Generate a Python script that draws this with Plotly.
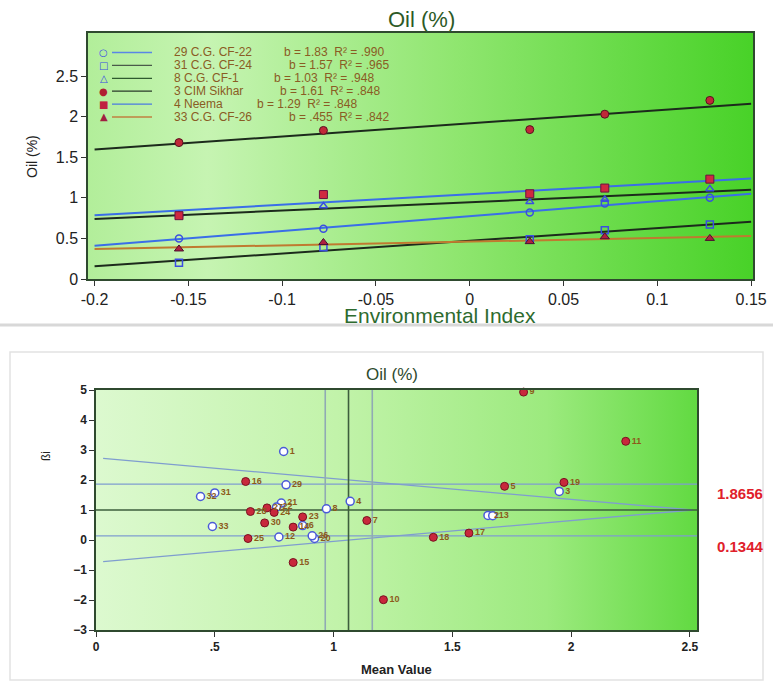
import plotly.graph_objects as go
import numpy as np

# design coordinates are in window pixels of the 773x684 target; the figure fills the window
W, H = 773, 684

# ---------------- Top chart data ----------------
env_index = [-0.155, -0.078, 0.032, 0.072, 0.128]
genotype_names = ["29 C.G. CF-22", "31 C.G. CF-24", "8 C.G. CF-1",
                  "3 CIM Sikhar", "4 Neema", "33 C.G. CF-26"]
b_values = [1.83, 1.57, 1.03, 1.61, 1.29, 0.455]
b_labels = ["1.83", "1.57", "1.03", "1.61", "1.29", ".455"]
r2_labels = [".990", ".965", ".948", ".848", ".848", ".842"]
oil_cf22 = [0.50, 0.62, 0.82, 0.93, 1.00]
oil_cf24 = [0.20, 0.39, 0.49, 0.60, 0.67]
oil_cf1 = [0.79, 0.90, 0.95, 0.98, 1.11]
oil_cim = [1.68, 1.83, 1.84, 2.03, 2.20]
oil_neema = [0.78, 1.04, 1.05, 1.12, 1.23]
oil_cf26 = [0.37, 0.45, 0.46, 0.52, 0.50]
top_x_ticks = [-0.2, -0.15, -0.1, -0.05, 0, 0.05, 0.1, 0.15]
top_x_ticktext = ["-0.2", "-0.15", "-0.1", "-0.05", "0", "0.05", "0.1", "0.15"]
top_y_ticks = [0, 0.5, 1, 1.5, 2, 2.5]
top_y_ticktext = ["0", "0.5", "1", "1.5", "2", "2.5"]
line_x_extent = [-0.2, 0.15]

# ---------------- Bottom chart data ----------------
geno_labels = ["1", "2", "3", "4", "5", "6", "7", "8", "9", "10", "11",
               "12", "13", "14", "15", "16", "17", "18", "19", "20", "21",
               "22", "23", "24", "25", "26", "27", "28", "29", "30", "31",
               "32", "33"]
mean_values = [0.79, 1.65, 1.95, 1.07, 1.72, 0.87, 1.14, 0.97, 1.80, 1.21, 2.23,
               0.77, 1.67, 0.83, 0.83, 0.63, 1.57, 1.42, 1.97, 0.92, 0.78,
               0.76, 0.87, 0.75, 0.64, 0.91, 0.72, 0.65, 0.80, 0.71, 0.50,
               0.44, 0.49]
beta_values = [2.95, 0.82, 1.62, 1.29, 1.79, 0.48, 0.65, 1.04, 4.93, -1.99, 3.29,
               0.10, 0.81, 0.43, -0.75, 1.95, 0.23, 0.09, 1.92, 0.05, 1.23,
               1.10, 0.77, 0.92, 0.05, 0.14, 1.07, 0.95, 1.84, 0.57, 1.57,
               1.45, 0.45]
marker_kind = ["open", "open", "open", "open", "filled", "open", "filled", "open", "filled", "filled", "filled",
               "open", "open", "filled", "filled", "filled", "filled", "filled", "filled", "open", "open",
               "open", "filled", "filled", "filled", "open", "filled", "filled", "open", "filled", "open",
               "open", "open"]
grand_mean = 1.063
mean_limits = [0.965, 1.163]
beta_ref = 1.0
beta_limits = [1.8656, 0.1344]
funnel_x = [0.03, 2.51]
funnel_upper = [2.72, 1.0]
funnel_lower = [-0.72, 1.0]
bot_x_ticks = [0, 0.5, 1, 1.5, 2, 2.5]
bot_x_ticktext = ["0", ".5", "1", "1.5", "2", "2.5"]
bot_y_ticks = [-3, -2, -1, 0, 1, 2, 3, 4, 5]


# ---------------- Layout helpers (window pixels -> paper fractions) ----------------
def fx(px):
    return px / W


def fy(py):
    return 1 - py / H


TOP_XR = [-0.2035, 0.151]
TOP_YR = [0, 3.03]
BOT_XR = [0.0, 2.53]
BOT_YR = [-3, 5]

fig = go.Figure()

# gradient backgrounds
fig.add_trace(go.Scatter(
    x=[TOP_XR[0], TOP_XR[1], TOP_XR[1], TOP_XR[0], TOP_XR[0]],
    y=[TOP_YR[0], TOP_YR[0], TOP_YR[1], TOP_YR[1], TOP_YR[0]],
    mode="none", fill="toself", hoverinfo="skip", showlegend=False,
    fillgradient=dict(type="horizontal",
                      colorscale=[[0, "#b2ee9a"], [0.18, "#c6f4b2"], [0.55, "#90e670"], [1, "#48d228"]]),
    xaxis="x", yaxis="y"))
fig.add_trace(go.Scatter(
    x=[BOT_XR[0], BOT_XR[1], BOT_XR[1], BOT_XR[0], BOT_XR[0]],
    y=[BOT_YR[0], BOT_YR[0], BOT_YR[1], BOT_YR[1], BOT_YR[0]],
    mode="none", fill="toself", hoverinfo="skip", showlegend=False,
    fillgradient=dict(type="horizontal",
                      colorscale=[[0, "#dcf9cf"], [0.4, "#c2f3aa"], [0.75, "#9cea7e"], [1, "#62da42"]]),
    xaxis="x2", yaxis="y2"))

# ---------------- Top chart traces ----------------
series = [oil_cf22, oil_cf24, oil_cf1, oil_cim, oil_neema, oil_cf26]
line_colors = ["#3a6ee8", "#1c2a1c", "#1c2a1c", "#1c2a1c", "#3a6ee8", "#c07a30"]
legend_line_colors = ["#5a86e6", "#4a5a4a", "#2e5a2e", "#2a3a2a", "#4a7ae0", "#c08040"]
symbols = ["circle-open", "square-open", "triangle-up-open", "circle", "square", "triangle-up"]
m_fill = ["#3a4ee0", "#3a4ee0", "#3a4ee0", "#c02838", "#d02840", "#b02040"]
m_line = ["#3a4ee0", "#3a4ee0", "#3a4ee0", "#5a1020", "#6a1040", "#4a1030"]
env_mean = float(np.mean(env_index))
for vals, b, lc in zip(series, b_values, line_colors):
    ym = float(np.mean(vals))
    ly = [ym + b * (xv - env_mean) for xv in line_x_extent]
    fig.add_trace(go.Scatter(x=line_x_extent, y=ly, mode="lines",
                             line=dict(color=lc, width=2), showlegend=False,
                             xaxis="x", yaxis="y"))
for vals, sym, mf, ml in zip(series, symbols, m_fill, m_line):
    if sym.endswith("open"):
        mk = dict(symbol=sym, size=7, color=mf, line=dict(color=ml, width=1.5))
    else:
        mk = dict(symbol=sym, size=8, color=mf, line=dict(color=ml, width=1))
    fig.add_trace(go.Scatter(x=env_index, y=vals, mode="markers", marker=mk,
                             showlegend=False, xaxis="x", yaxis="y"))

# ---------------- Bottom chart traces ----------------
ref_col = "#7f9dcf"
for yv in beta_limits:
    fig.add_trace(go.Scatter(x=BOT_XR, y=[yv, yv], mode="lines",
                             line=dict(color=ref_col, width=1.3), showlegend=False, xaxis="x2", yaxis="y2"))
for f_vals in (funnel_upper, funnel_lower):
    fig.add_trace(go.Scatter(x=funnel_x, y=f_vals, mode="lines",
                             line=dict(color=ref_col, width=1.3), showlegend=False, xaxis="x2", yaxis="y2"))
for mv in mean_limits:
    fig.add_trace(go.Scatter(x=[mv, mv], y=BOT_YR, mode="lines",
                             line=dict(color="#90aab4", width=1.6), showlegend=False, xaxis="x2", yaxis="y2"))
fig.add_trace(go.Scatter(x=[grand_mean, grand_mean], y=BOT_YR, mode="lines",
                         line=dict(color="#3d5e3d", width=1.6), showlegend=False, xaxis="x2", yaxis="y2"))
fig.add_trace(go.Scatter(x=BOT_XR, y=[beta_ref, beta_ref], mode="lines",
                         line=dict(color="#3d5e3d", width=1.6), showlegend=False, xaxis="x2", yaxis="y2"))

for kind in ["open", "filled"]:
    idx = [i for i, k in enumerate(marker_kind) if k == kind]
    if kind == "open":
        mk = dict(symbol="circle", size=8, color="white", line=dict(color="#4a5ad8", width=1.5))
    else:
        mk = dict(symbol="circle", size=8, color="#c8283c", line=dict(color="#7a1020", width=1))
    fig.add_trace(go.Scatter(
        x=[mean_values[i] for i in idx], y=[beta_values[i] for i in idx],
        text=[geno_labels[i] for i in idx], mode="markers+text",
        textposition="middle right", marker=mk, cliponaxis=False,
        textfont=dict(family="Liberation Sans", size=9, color="#8c5a1c", weight="bold"),
        showlegend=False, xaxis="x2", yaxis="y2"))

# ---------------- Axes ----------------
frame_col = "#2f4a2f"
fig.update_layout(
    autosize=True, margin=dict(l=0, r=0, t=0, b=0, autoexpand=False),
    paper_bgcolor="white", plot_bgcolor="rgba(0,0,0,0)", showlegend=False,
    font=dict(family="Liberation Sans", color="#222"),
    xaxis=dict(domain=[fx(88), fx(753)], range=TOP_XR, anchor="y",
               tickvals=top_x_ticks, ticktext=top_x_ticktext, ticks="outside", ticklen=5,
               ticklabeloverflow="allow",
               tickcolor="#333", showgrid=False, zeroline=False, showline=True, mirror=True,
               linecolor=frame_col, linewidth=1.5, tickfont=dict(size=16, color="#222")),
    yaxis=dict(domain=[fy(279), fy(33)], range=TOP_YR, anchor="x",
               tickvals=top_y_ticks, ticktext=top_y_ticktext, ticks="outside", ticklen=5,
               tickcolor="#333", showgrid=False, zeroline=False, showline=True, mirror=True,
               linecolor=frame_col, linewidth=1.5, tickfont=dict(size=16, color="#222")),
    xaxis2=dict(domain=[fx(96), fx(697)], range=BOT_XR, anchor="y2",
                tickvals=bot_x_ticks, ticktext=bot_x_ticktext, ticks="outside", ticklen=5,
                tickcolor="#333", showgrid=False, zeroline=False, showline=True, mirror=True,
                linecolor=frame_col, linewidth=1.5,
                tickfont=dict(size=12, color="#222", weight="bold")),
    yaxis2=dict(domain=[fy(630), fy(390)], range=BOT_YR, anchor="x2",
                tickvals=bot_y_ticks, ticks="outside", ticklen=5,
                tickcolor="#333", showgrid=False, zeroline=False, showline=True, mirror=True,
                linecolor=frame_col, linewidth=1.5,
                tickfont=dict(size=12, color="#222", weight="bold")),
)

ann = []


def add_text(px, py, text, size, color, weight="normal", xanchor="center", angle=0, family=None):
    f = dict(size=size, color=color, weight=weight)
    if family:
        f["family"] = family
    ann.append(dict(x=fx(px), y=fy(py), xref="paper", yref="paper", text=text, showarrow=False,
                    xanchor=xanchor, yanchor="middle", textangle=angle, font=f))


# titles
add_text(421, 20, "Oil (%)", 22, "#2d5a27")
add_text(440, 315, "Environmental Index", 21, "#2e6b2e")
add_text(32, 157, "Oil (%)", 14, "#222", angle=-90)
add_text(392, 374, "Oil (%)", 17, "#2d4a2d")
add_text(397, 669, "Mean Value", 13, "#222", weight="bold")
add_text(46, 456, "ßi", 12, "#222", angle=-90)
# right side limits
for val, sh in zip(beta_limits, [-9, -11]):
    ann.append(dict(x=fx(740), y=val, xref="paper", yref="y2", yshift=sh,
                    xanchor="center", yanchor="middle",
                    text=("%.4f" % val), showarrow=False,
                    font=dict(size=15, color="#e0202a", weight="bold")))

# legend (top chart)
legend_glyphs = ["○", "□", "△", "●", "■", "▲"]
legend_glyph_colors = ["#3a4ee0", "#3a4ee0", "#3a4ee0", "#b02030", "#c02040", "#a02040"]
legend_b_x = [282, 287, 272, 278, 255, 287]
shapes = []
for i, name in enumerate(genotype_names):
    py = 52.5 + 12.9 * i
    add_text(104, py, legend_glyphs[i], 10, legend_glyph_colors[i], family="DejaVu Sans")
    shapes.append(dict(type="line", xref="paper", yref="paper", x0=fx(112), x1=fx(152),
                       y0=fy(py), y1=fy(py), line=dict(color=legend_line_colors[i], width=1.3)))
    add_text(172, py, name, 12, "#8a5c24", xanchor="left")
    add_text(legend_b_x[i], py, "b = " + b_labels[i] + "\u00a0\u00a0R² = " + r2_labels[i],
             12, "#8a5c24", xanchor="left")

# decorative panel separators
shapes.append(dict(type="line", xref="paper", yref="paper", x0=0, x1=1, y0=fy(325), y1=fy(325),
                   line=dict(color="#d8d8d8", width=3)))
shapes.append(dict(type="rect", xref="paper", yref="paper", x0=fx(10), x1=fx(763), y0=fy(680), y1=fy(352),
                   line=dict(color="#e2e2e2", width=1.5)))

fig.update_layout(annotations=ann, shapes=shapes)

fit_script = (
    "var s=document.createElement('style');"
    "s.innerHTML='html,body{margin:0;padding:0;width:100%;height:100%;overflow:hidden}';"
    "document.head.appendChild(s);"
    "var gd=document.getElementById('{plot_id}');"
    "gd.style.width='100vw';gd.style.height='100vh';"
    "Plotly.Plots.resize(gd);"
)
fig.write_html("out.html", config={"displayModeBar": False, "responsive": True},
               default_width="100vw", default_height="100vh", post_script=fit_script)
